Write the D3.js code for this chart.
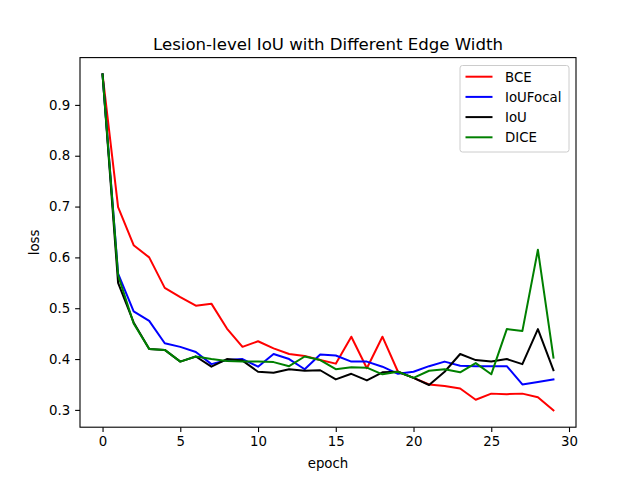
<!DOCTYPE html>
<html>
<head>
<meta charset="utf-8">
<script src="https://cdn.jsdelivr.net/npm/d3@7"></script>
<style>
  html, body { margin: 0; padding: 0; background: #fff; }
  svg { display: block; font-family: "DejaVu Sans", sans-serif; }
</style>
</head>
<body>
<svg id="chart" width="640" height="480"></svg>
<script>
const epochs = d3.range(0, 30);
const seriesNames = ["BCE", "IoUFocal", "IoU", "DICE"];
const seriesColors = ["#ff0000", "#0000ff", "#000000", "#008000"];
const bce = [0.96, 0.699, 0.624, 0.600, 0.540, 0.522, 0.505, 0.509, 0.460, 0.424,
             0.435, 0.421, 0.410, 0.406, 0.398, 0.391, 0.444, 0.382, 0.444, 0.375,
             0.363, 0.350, 0.347, 0.342, 0.320, 0.332, 0.331, 0.332, 0.325, 0.299];
const iouFocal = [0.96, 0.568, 0.494, 0.475, 0.431, 0.424, 0.414, 0.390, 0.398, 0.400,
                  0.385, 0.410, 0.400, 0.380, 0.409, 0.407, 0.395, 0.395, 0.385, 0.371,
                  0.375, 0.386, 0.395, 0.387, 0.386, 0.386, 0.386, 0.350, 0.355, 0.360];
const iou = [0.96, 0.550, 0.472, 0.420, 0.418, 0.395, 0.405, 0.385, 0.400, 0.397,
             0.375, 0.373, 0.380, 0.377, 0.378, 0.360, 0.371, 0.358, 0.374, 0.375,
             0.363, 0.349, 0.375, 0.410, 0.398, 0.395, 0.400, 0.390, 0.459, 0.378];
const dice = [0.96, 0.565, 0.470, 0.420, 0.418, 0.395, 0.405, 0.400, 0.396, 0.395,
              0.395, 0.394, 0.386, 0.405, 0.398, 0.380, 0.384, 0.383, 0.370, 0.375,
              0.363, 0.377, 0.380, 0.374, 0.392, 0.370, 0.459, 0.455, 0.615, 0.403];
const xTicks = [0, 5, 10, 15, 20, 25, 30];
const yTicks = [0.3, 0.4, 0.5, 0.6, 0.7, 0.8, 0.9];

const allSeries = [bce, iouFocal, iou, dice];

const W = 640, H = 480;
const mLeft = 80, mRight = 576, mTop = 57.6, mBottom = 427.2;

const xMin = 0, xMax = 29;
const xPad = (xMax - xMin) * 0.05;
const yMinD = d3.min(allSeries.flat()), yMaxD = d3.max(allSeries.flat());
const yPad = (yMaxD - yMinD) * 0.05;

const x = d3.scaleLinear().domain([xMin - xPad, xMax + xPad]).range([mLeft, mRight]);
const y = d3.scaleLinear().domain([yMinD - yPad, yMaxD + yPad]).range([mBottom, mTop]);

const svg = d3.select("#chart");
svg.append("rect").attr("width", W).attr("height", H).attr("fill", "#fff");

const line = d3.line().x((d, i) => x(epochs[i])).y(d => y(d));

const plot = svg.append("g");
allSeries.forEach((s, k) => {
  plot.append("path")
    .datum(s)
    .attr("d", line)
    .attr("fill", "none")
    .attr("stroke", seriesColors[k])
    .attr("stroke-width", 2)
    .attr("stroke-linejoin", "round")
    .attr("stroke-linecap", "square");
});

// axes
const xAxis = d3.axisBottom(x).tickValues(xTicks).tickFormat(d3.format("d")).tickSize(4.86).tickPadding(4.9);
const yAxis = d3.axisLeft(y).tickValues(yTicks).tickFormat(d3.format(".1f")).tickSize(4.86).tickPadding(4.9);

const gx = svg.append("g").attr("transform", `translate(0,${mBottom})`).call(xAxis);
const gy = svg.append("g").attr("transform", `translate(${mLeft},0)`).call(yAxis);
[gx, gy].forEach(g => {
  g.select(".domain").remove();
  g.selectAll("line").attr("stroke", "#000").attr("stroke-width", 1.1);
  g.selectAll("text").attr("fill", "#000").attr("font-size", "13.33px")
    .attr("font-family", "DejaVu Sans, sans-serif");
});

// frame
svg.append("rect")
  .attr("x", mLeft).attr("y", mTop)
  .attr("width", mRight - mLeft).attr("height", mBottom - mTop)
  .attr("fill", "none").attr("stroke", "#000").attr("stroke-width", 1.1);

// title
svg.append("text")
  .attr("x", (mLeft + mRight) / 2).attr("y", 49.5)
  .attr("text-anchor", "middle")
  .attr("font-size", "16.6px")
  .text("Lesion-level IoU with Different Edge Width");

// axis labels
svg.append("text")
  .attr("x", (mLeft + mRight) / 2).attr("y", 468)
  .attr("text-anchor", "middle")
  .attr("font-size", "13.33px")
  .text("epoch");

svg.append("text")
  .attr("transform", `translate(39,${(mTop + mBottom) / 2}) rotate(-90)`)
  .attr("text-anchor", "middle")
  .attr("font-size", "13.33px")
  .text("loss");

// legend
const lg = svg.append("g");
lg.append("rect")
  .attr("x", 460).attr("y", 65.5)
  .attr("width", 109).attr("height", 86.5)
  .attr("rx", 2.5).attr("ry", 2.5)
  .attr("fill", "#fff").attr("fill-opacity", 0.8)
  .attr("stroke", "#cccccc").attr("stroke-width", 1);
seriesNames.forEach((name, k) => {
  const yy = 76.7 + k * 20.2;
  lg.append("line")
    .attr("x1", 465.5).attr("x2", 492.5)
    .attr("y1", yy).attr("y2", yy)
    .attr("stroke", seriesColors[k]).attr("stroke-width", 2);
  lg.append("text")
    .attr("x", 505).attr("y", yy + 4.8)
    .attr("font-size", "13.33px")
    .text(name);
});
</script>
</body>
</html>
